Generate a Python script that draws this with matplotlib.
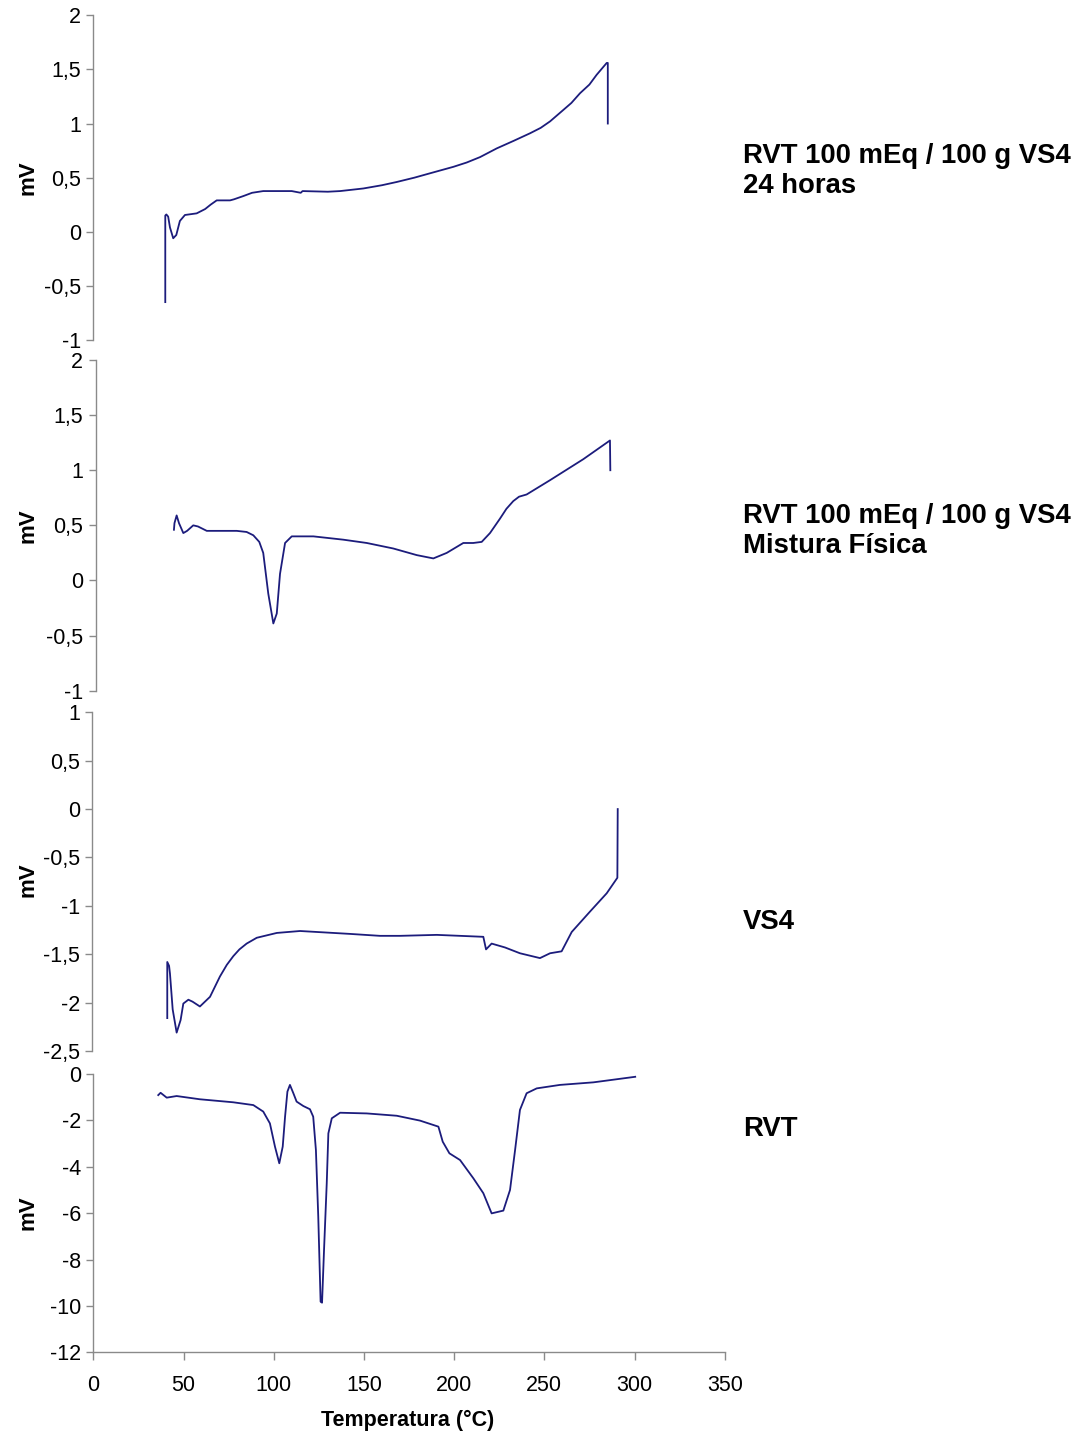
import matplotlib
matplotlib.use("Agg")
import matplotlib.pyplot as plt
from matplotlib.ticker import FuncFormatter

plt.rcParams['font.family'] = ['Liberation Sans', 'DejaVu Sans']

# ---- Data ----
# Panel 1: RVT 100 mEq / 100 g VS4, 24 horas
t1 = [39.9, 39.9, 40.5, 41.5, 42.5, 44.3, 46.0, 48.0, 50.8, 57.3, 62.0, 65.0, 68.4, 75.8, 78.0, 83.2,
      88.0, 94.2, 110.0, 115.0, 116.0, 130.0, 136.8, 149.7, 160.0, 168.2, 178.0, 186.6, 199.6, 207.0,
      214.4, 223.6, 233.0, 242.1, 248.0, 253.2, 260.5, 265.0, 269.8, 275.0, 279.0, 284.6, 285.2, 285.2]
v1 = [-0.65, 0.15, 0.16, 0.14, 0.04, -0.06, -0.03, 0.10, 0.155, 0.17, 0.21, 0.25, 0.29, 0.29, 0.30, 0.33,
      0.36, 0.376, 0.376, 0.36, 0.376, 0.37, 0.376, 0.40, 0.43, 0.46, 0.50, 0.54, 0.60, 0.64,
      0.69, 0.77, 0.84, 0.91, 0.96, 1.02, 1.125, 1.19, 1.28, 1.36, 1.45, 1.56, 1.56, 1.0]

# Panel 2: RVT 100 mEq / 100 g VS4, Mistura Fisica
t2 = [44.7, 45.0, 46.2, 47.5, 49.9, 52.0, 55.4, 58.0, 62.9, 79.5, 85.0, 88.7, 92.0, 94.2, 97.0, 99.8,
      101.7, 103.5, 106.3, 110.0, 122.0, 138.6, 151.6, 166.3, 179.3, 188.5, 195.9, 205.1, 210.6,
      215.3, 219.9, 225.4, 229.0, 232.8, 236.0, 240.2, 253.2, 271.6, 286.4, 286.6]
v2 = [0.46, 0.52, 0.59, 0.52, 0.43, 0.45, 0.50, 0.49, 0.45, 0.45, 0.44, 0.41, 0.35, 0.25, -0.12, -0.39,
      -0.30, 0.06, 0.34, 0.40, 0.40, 0.37, 0.34, 0.29, 0.23, 0.20, 0.25, 0.34, 0.34,
      0.35, 0.43, 0.56, 0.65, 0.72, 0.76, 0.78, 0.91, 1.10, 1.27, 1.0]

# Panel 3: VS4
t3 = [41.0, 41.0, 42.0, 42.5, 44.0, 46.2, 48.4, 49.9, 52.7, 55.0, 59.1, 64.7, 70.2, 74.0, 77.6, 81.0,
      85.0, 90.6, 101.7, 114.6, 142.3, 158.9, 170.0, 190.4, 216.2, 217.7, 220.8, 228.2, 236.5, 247.6,
      253.2, 259.6, 265.2, 275.3, 284.6, 290.5, 290.7]
v3 = [-2.16, -1.58, -1.62, -1.70, -2.07, -2.31, -2.18, -2.01, -1.97, -1.99, -2.04, -1.94, -1.73, -1.61,
      -1.52, -1.45, -1.39, -1.33, -1.28, -1.26, -1.29, -1.31, -1.31, -1.30, -1.32, -1.45, -1.39, -1.43,
      -1.49, -1.54, -1.49, -1.47, -1.27, -1.06, -0.87, -0.71, 0.0]

# Panel 4: RVT
t4 = [36.0, 37.3, 40.7, 46.2, 59.1, 77.6, 88.7, 94.2, 97.9, 100.7, 103.1, 105.0, 106.3, 107.6,
      109.0, 110.9, 112.7, 116.4, 120.1, 121.9, 123.4, 124.7, 126.0, 126.8, 127.9, 129.4, 130.3,
      132.2, 136.8, 151.6, 168.2, 181.1, 191.3, 193.7, 197.4, 203.3, 210.7, 216.2, 220.8, 227.3,
      231.0, 233.8, 236.5, 240.2, 245.8, 258.7, 277.2, 300.4]
v4 = [-0.91, -0.81, -1.02, -0.95, -1.09, -1.22, -1.34, -1.62, -2.13, -3.13, -3.85, -3.13, -1.84, -0.76,
      -0.47, -0.83, -1.19, -1.38, -1.52, -1.84, -3.28, -6.15, -9.82, -9.86, -7.59, -4.71, -2.56,
      -1.91, -1.67, -1.70, -1.80, -2.01, -2.27, -2.92, -3.42, -3.71, -4.50, -5.14, -6.01, -5.89,
      -5.0, -3.28, -1.55, -0.83, -0.62, -0.47, -0.36, -0.12]

labels = ["RVT 100 mEq / 100 g VS4\n24 horas",
          "RVT 100 mEq / 100 g VS4\nMistura Física",
          "VS4",
          "RVT"]
ylims = [(-1, 2), (-1, 2), (-2.5, 1), (-12, 0)]
ysteps = [0.5, 0.5, 0.5, 2]
xticks = [0, 50, 100, 150, 200, 250, 300, 350]

# ---- Layout (pixels) ----
W, H = 1082, 1433
fig = plt.figure(figsize=(W / 100, H / 100), dpi=100)

px_per_unit = (724.7 - 93.3) / 350.0
panels = [  # (left_px, top_px, bottom_px, label_y_px, mv_y_px)
    (93.3, 15.3, 340.0, 171, 178),
    (95.7, 360.0, 690.7, 531, 526),
    (92.3, 712.3, 1051.0, 922, 880),
    (93.3, 1074.0, 1352.3, 1129, 1213),
]
data = [(t1, v1), (t2, v2), (t3, v3), (t4, v4)]
axis_col = '#8a8a8a'
line_col = '#1c1c7c'

for i, ((lp, tp, bp, ly, my), (t, v)) in enumerate(zip(panels, data)):
    right = 724.7
    ax = fig.add_axes([lp / W, 1 - bp / H, (right - lp) / W, (bp - tp) / H])
    x0 = (lp - 93.3) / px_per_unit
    ax.plot(t, v, color=line_col, lw=1.3, solid_joinstyle='round')
    ax.set_xlim(x0, 350)
    ax.set_ylim(*ylims[i])
    lo, hi = ylims[i]
    st = ysteps[i]
    n = int(round((hi - lo) / st))
    ax.set_yticks([lo + k * st for k in range(n + 1)])
    ax.yaxis.set_major_formatter(FuncFormatter(
        lambda val, pos: (('%g' % val).replace('.', ',')) if abs(val) > 1e-9 else '0'))
    for s in ['top', 'right']:
        ax.spines[s].set_visible(False)
    ax.spines['left'].set_color(axis_col)
    ax.spines['left'].set_linewidth(1.0)
    ax.tick_params(axis='y', direction='out', length=5, width=1.0, color=axis_col,
                   labelsize=15.5, pad=4, labelcolor='black')
    if i < 3:
        ax.spines['bottom'].set_visible(False)
        ax.set_xticks([])
    else:
        ax.spines['bottom'].set_color(axis_col)
        ax.spines['bottom'].set_linewidth(1.0)
        ax.set_xticks(xticks)
        ax.tick_params(axis='x', direction='out', length=6, width=1.0, color=axis_col,
                       labelsize=15.5, pad=10, labelcolor='black')
    ax.patch.set_alpha(0)
    fig.text(28 / W, 1 - my / H, 'mV', rotation=90, ha='center', va='center',
             fontsize=16, fontweight='bold')
    fig.text(743 / W, 1 - ly / H, labels[i], ha='left', va='center',
             fontsize=19.8, fontweight='bold', linespacing=1.22)

fig.text(408 / W, 1 - 1420 / H, 'Temperatura (°C)', ha='center', va='center',
         fontsize=15.5, fontweight='bold')

fig.savefig('out.png', dpi=100, facecolor='white')
